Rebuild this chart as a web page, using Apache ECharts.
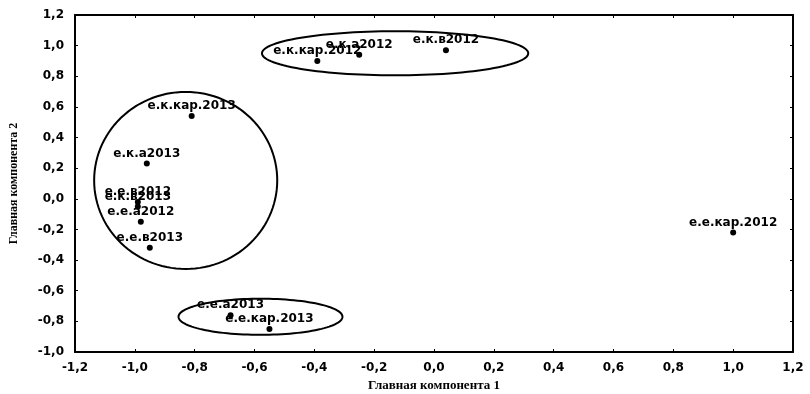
<!DOCTYPE html>
<html>
<head>
<meta charset="utf-8">
<script src="https://cdn.jsdelivr.net/npm/echarts@6/dist/echarts.min.js"></script>
<style>
  html, body { margin: 0; padding: 0; background: #fff; }
  #chart { width: 810px; height: 394px; }
</style>
</head>
<body>
<div id="chart"></div>
<script>
// Component scores of the samples
const sampleNames = [
  'е.к.кар.2012', 'е.к.а2012', 'е.к.в2012',
  'е.к.кар.2013', 'е.к.а2013', 'е.е.в2012', 'е.к.в2013', 'е.е.а2012', 'е.е.в2013',
  'е.е.а2013', 'е.е.кар.2013',
  'е.е.кар.2012'
];
const pc1 = [-0.39, -0.25, 0.04, -0.81, -0.96, -0.99, -0.99, -0.98, -0.95, -0.68, -0.55, 1.0];
const pc2 = [0.90, 0.94, 0.97, 0.54, 0.23, -0.02, -0.05, -0.15, -0.32, -0.76, -0.85, -0.22];

// Group outlines: centre and half-axes in component units
const groupCx = [-0.13, -0.83, -0.58];
const groupCy = [0.95, 0.12, -0.77];
const groupRx = [0.445, 0.306, 0.274];
const groupRy = [0.144, 0.578, 0.118];

// Axis ticks
const tickMin = -1.2, tickStep = 0.2;
const xMax = 1.2, yMin = -1.0, yMax = 1.2;

const fmt = v => v.toFixed(1).replace('.', ',').replace('-0,0', '0,0');

const points = sampleNames.map((n, i) => ({ name: n, value: [pc1[i], pc2[i]] }));
const groups = groupCx.map((c, i) => [c, groupCy[i], groupRx[i], groupRy[i]]);

const tickFont = { fontFamily: 'DejaVu Sans', fontWeight: 'bold', fontSize: 12, color: '#000' };
const nameFont = { fontFamily: 'Liberation Serif, Times New Roman', fontWeight: 'bold', fontSize: 13, color: '#000' };
const blackLine = { lineStyle: { color: '#000', width: 2 } };
const innerTick = { show: true, inside: true, length: 3, lineStyle: { color: '#000' } };

const chart = echarts.init(document.getElementById('chart'), null, { renderer: 'canvas' });
chart.setOption({
  animation: false,
  backgroundColor: '#fff',
  grid: { left: 75, right: 17, top: 15, bottom: 42, containLabel: false, outerBoundsMode: 'none' },
  xAxis: [{
    type: 'value', min: tickMin, max: xMax, interval: tickStep,
    axisLine: { show: true, onZero: false, ...blackLine },
    axisTick: innerTick,
    axisLabel: { ...tickFont, margin: 10, formatter: fmt },
    splitLine: { show: false },
    name: 'Главная компонента 1', nameLocation: 'middle', nameGap: 22,
    nameTextStyle: nameFont
  }, {
    type: 'value', position: 'top', min: tickMin, max: xMax, interval: tickStep,
    axisLine: { show: true, onZero: false, ...blackLine },
    axisTick: innerTick,
    axisLabel: { show: false }, splitLine: { show: false }
  }],
  yAxis: [{
    type: 'value', min: yMin, max: yMax, interval: tickStep,
    axisLine: { show: true, onZero: false, ...blackLine },
    axisTick: innerTick,
    axisLabel: { ...tickFont, margin: 11, formatter: fmt },
    splitLine: { show: false },
    name: 'Главная компонента 2', nameLocation: 'middle', nameGap: 55,
    nameTextStyle: { ...nameFont, fontSize: 12 }
  }, {
    type: 'value', position: 'right', min: yMin, max: yMax, interval: tickStep,
    axisLine: { show: true, onZero: false, ...blackLine },
    axisTick: innerTick,
    axisLabel: { show: false }, splitLine: { show: false }
  }],
  series: [{
    type: 'custom',
    xAxisIndex: 0, yAxisIndex: 0,
    data: groups,
    silent: true,
    renderItem: (params, api) => {
      const c = api.coord([api.value(0), api.value(1)]);
      const s = api.size([api.value(2), api.value(3)]);
      const pts = [];
      for (let k = 0; k < 120; k++) {
        const a = k / 120 * Math.PI * 2;
        pts.push([c[0] + s[0] * Math.cos(a), c[1] + s[1] * Math.sin(a)]);
      }
      return {
        type: 'polygon',
        shape: { points: pts },
        style: { fill: 'none', stroke: '#000', lineWidth: 2 }
      };
    },
    z: 2
  }, {
    type: 'scatter',
    xAxisIndex: 0, yAxisIndex: 0,
    data: points,
    symbol: 'circle',
    symbolSize: 6,
    itemStyle: { color: '#000', opacity: 1 },
    label: {
      show: true,
      position: 'top',
      distance: 1,
      offset: [-6, 0],
      formatter: p => p.name,
      fontFamily: 'DejaVu Sans',
      fontWeight: 'bold',
      fontSize: 12,
      color: '#000'
    },
    labelLayout: { hideOverlap: false },
    z: 3
  }]
});
</script>
</body>
</html>
